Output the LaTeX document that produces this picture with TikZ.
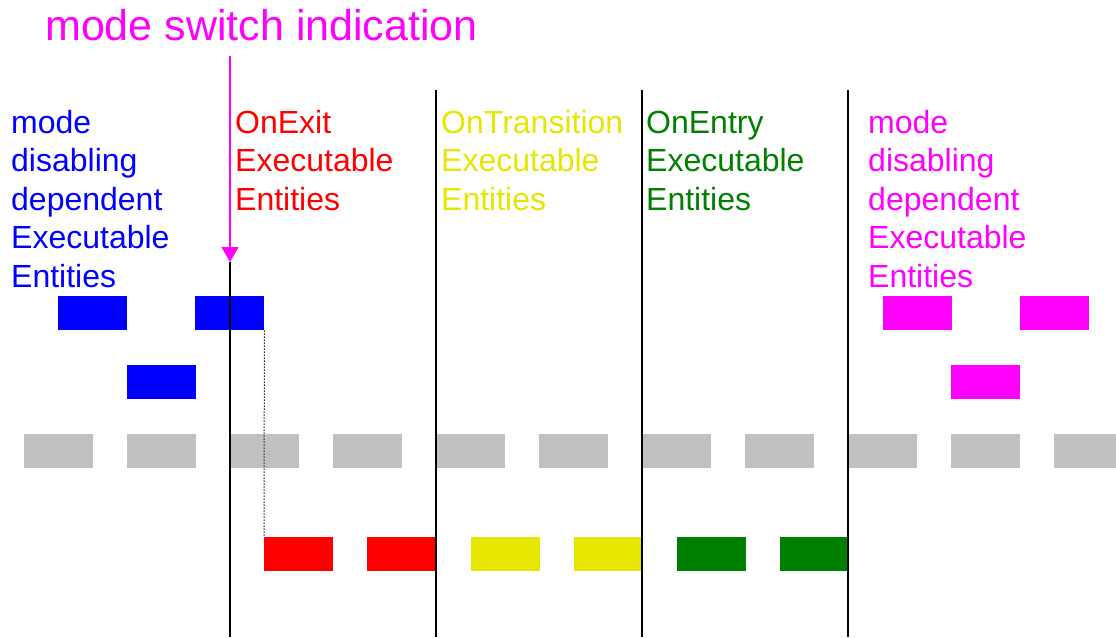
\documentclass[tikz,border=0pt]{standalone}
\usepackage{fontspec}
\setmainfont{Liberation Sans}
\usetikzlibrary{arrows.meta}
\definecolor{cblue}{RGB}{0,0,255}
\definecolor{cred}{RGB}{255,0,0}
\definecolor{cyel}{RGB}{230,230,0}
\definecolor{cgreen}{RGB}{0,128,0}
\definecolor{cmag}{RGB}{255,0,255}
\definecolor{cgrey}{RGB}{192,192,192}
\newcommand{\lbltext}[1]{\fontsize{32}{38.5}\selectfont\vtop{#1}}
\begin{document}
\begin{tikzpicture}[x=1pt,y=-1pt,
  blk/.style={rectangle, inner sep=0pt, minimum width=69pt, minimum height=34pt, anchor=north west, draw=none},
  lbl/.style={anchor=base west, inner sep=0pt},
  sep/.style={line width=1.6pt, black}]
\useasboundingbox (0,0) rectangle (1116,637);
% title
\node[lbl, text=cmag, font=\fontsize{43}{50}\selectfont] (title) at (45,40) {mode switch indication};
% labels
\node[lbl, text=cblue] (l1) at (11,133) {\lbltext{\hbox{mode}\hbox{disabling}\hbox{dependent}\hbox{Executable}\hbox{Entities}}};
\node[lbl, text=cred] (l2) at (235,133) {\lbltext{\hbox{OnExit}\hbox{Executable}\hbox{Entities}}};
\node[lbl, text=cyel] (l3) at (441,133) {\lbltext{\hbox{OnTransition}\hbox{Executable}\hbox{Entities}}};
\node[lbl, text=cgreen] (l4) at (646,133) {\lbltext{\hbox{OnEntry}\hbox{Executable}\hbox{Entities}}};
\node[lbl, text=cmag] (l5) at (868,133) {\lbltext{\hbox{mode}\hbox{disabling}\hbox{dependent}\hbox{Executable}\hbox{Entities}}};
% grey row
\foreach \i in {0,...,9} {
  \node[blk, fill=cgrey] (g\i) at ({24+103*\i},434) {};
}
\node[blk, fill=cgrey, minimum width=62pt] (g10) at (1054,434) {};
% blue
\node[blk, fill=cblue] (b1) at (58,296) {};
\node[blk, fill=cblue] (b2) at (195,296) {};
\node[blk, fill=cblue] (b3) at (127,365) {};
% magenta
\node[blk, fill=cmag] (m1) at (883,296) {};
\node[blk, fill=cmag] (m2) at (1020,296) {};
\node[blk, fill=cmag] (m3) at (951,365) {};
% bottom row
\node[blk, fill=cred] (r1) at (264,537) {};
\node[blk, fill=cred] (r2) at (367,537) {};
\node[blk, fill=cyel] (y1) at (471,537) {};
\node[blk, fill=cyel] (y2) at (574,537) {};
\node[blk, fill=cgreen] (e1) at (677,537) {};
\node[blk, fill=cgreen] (e2) at (780,537) {};
% vertical separators
\coordinate (v1t) at (230,262);
\coordinate (v1b) at (230,637);
\coordinate (v2t) at (436,90);
\coordinate (v2b) at (436,637);
\coordinate (v3t) at (642,90);
\coordinate (v3b) at (642,637);
\coordinate (v4t) at (848,90);
\coordinate (v4b) at (848,637);
\draw[sep] (v1t) -- (v1b);
\draw[sep] (v2t) -- (v2b);
\draw[sep] (v3t) -- (v3b);
\draw[sep] (v4t) -- (v4b);
% dotted link
\draw[black!85, line width=1pt, dash pattern=on 1.5pt off 1.5pt] (b2.south east) -- (r1.north west);
% arrow
\coordinate (arrs) at (230,56);
\draw[cmag, line width=1.3pt, -{Triangle[length=15pt,width=17pt]}] (arrs) -- (v1t);
\end{tikzpicture}
\end{document}
